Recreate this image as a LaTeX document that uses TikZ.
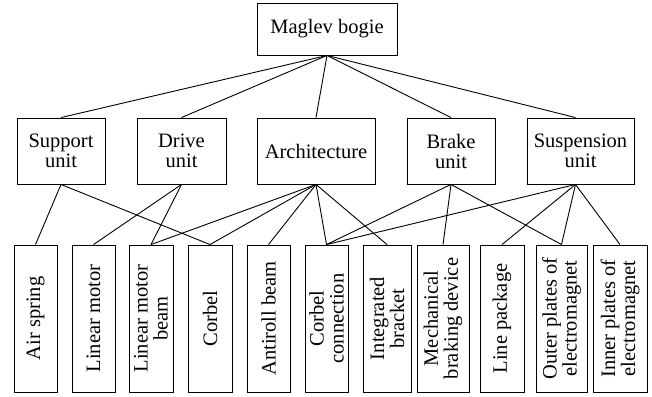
\documentclass[tikz,border=0pt]{standalone}
\usepackage{fontspec}
\setmainfont{Liberation Serif}
\begin{document}
\begin{tikzpicture}[x=1pt,y=-1pt,
  box/.style={draw,line width=0.9pt,inner sep=0pt,align=center,font=\fontsize{20.5}{20}\selectfont},
  lev2/.style={box,minimum height=66pt},
  leaf/.style={box,rotate=90,minimum width=147pt},
  link/.style={line width=0.9pt}]
\useasboundingbox (0,0) rectangle (652,396);
\node[box,minimum width=140pt,minimum height=52pt] (root) at (327,29) {Maglev bogie};
\node[lev2,minimum width=88pt] (sup) at (61,151) {Support\\unit};
\node[lev2,minimum width=89pt] (drv) at (181.5,151) {Drive\\unit};
\node[lev2,minimum width=118pt] (arc) at (316,151) {Architecture};
\node[lev2,minimum width=88pt] (brk) at (451,151) {Brake\\unit};
\node[lev2,minimum width=107pt] (sus) at (580.5,151) {Suspension\\unit};

\node[leaf,minimum height=43pt] (air) at (35.5,318.5) {Air spring};
\node[leaf,minimum height=43pt] (lm) at (93.5,318.5) {Linear motor};
\node[leaf,minimum height=44pt] (lmb) at (151,318.5) {Linear motor\\beam};
\node[leaf,minimum height=44pt] (cor) at (210,318.5) {Corbel};
\node[leaf,minimum height=43pt] (ant) at (268.5,318.5) {Antiroll beam};
\node[leaf,minimum height=43pt] (cc) at (326.5,318.5) {Corbel\\connection};
\node[leaf,minimum height=48pt] (ib) at (387,318.5) {Integrated\\bracket};
\node[leaf,minimum height=52pt] (mbd) at (443,318.5) {Mechanical\\braking device};
\node[leaf,minimum height=44pt] (lp) at (502,318.5) {Line package};
\node[leaf,minimum height=51pt] (ope) at (561.5,318.5) {Outer plates of\\electromagnet};
\node[leaf,minimum height=54pt] (ipe) at (620,318.5) {Inner plates of\\electromagnet};

\foreach \n in {sup,drv,arc,brk}
  \draw[link] (root.south) -- (\n.north);
\draw[link] (root.south) -- ([xshift=-5pt]sus.north);

\foreach \n in {air,cor}
  \draw[link] (sup.south) -- (\n.east);
\foreach \n in {lm,lmb}
  \draw[link] (drv.south) -- (\n.east);
\foreach \n in {lmb,cor,ant,cc,ib}
  \draw[link] (arc.south) -- (\n.east);
\foreach \n in {cc,mbd,ope}
  \draw[link] (brk.south) -- (\n.east);
\foreach \n in {cc,lp,ope,ipe}
  \draw[link] ([xshift=-5pt]sus.south) -- (\n.east);
\end{tikzpicture}
\end{document}
